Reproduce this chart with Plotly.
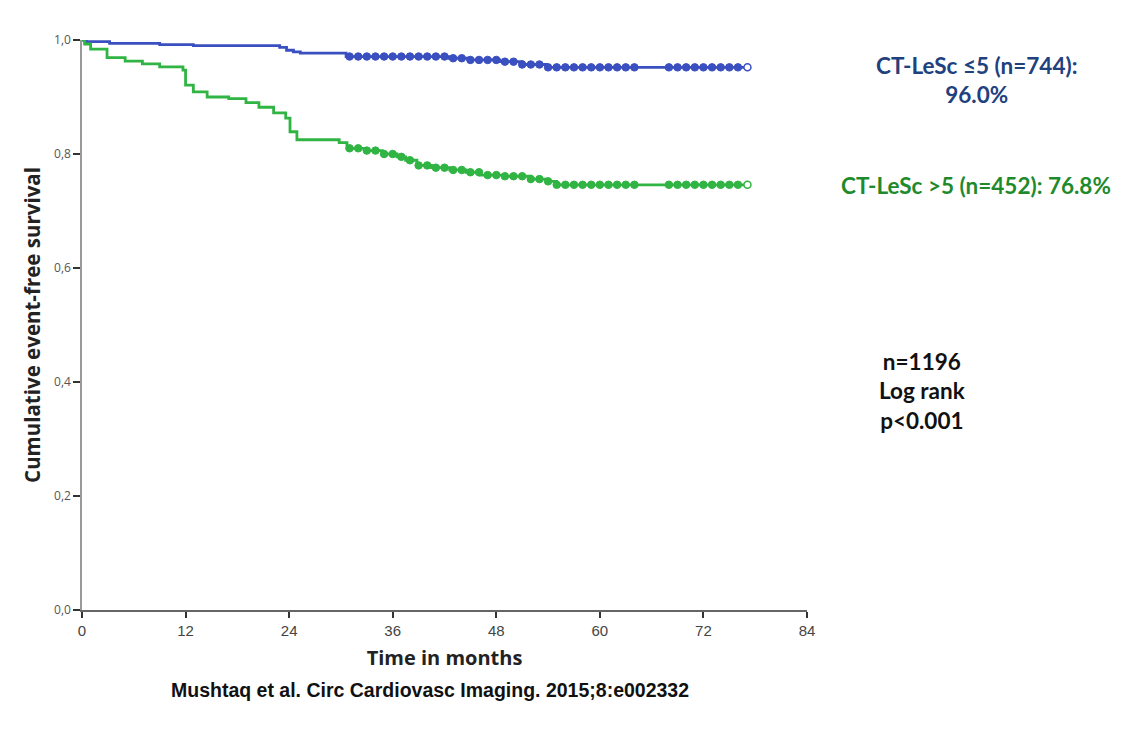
import plotly.graph_objects as go

# ---- data ----
blue_t = [0, 0.5, 3.2, 9.0, 12.9, 22.9, 23.7, 24.5, 25.3, 30.6, 42.5, 45.0, 48.4, 51.0, 53.8, 77.1]
blue_s = [1.000, 0.997, 0.994, 0.992, 0.990, 0.987, 0.982, 0.979, 0.977, 0.971, 0.968, 0.965, 0.962, 0.957, 0.952, 0.952]

green_t = [0, 0.3, 1.0, 2.9, 5.0, 7.0, 9.0, 11.7, 12.0, 12.9, 14.5, 17.0, 19.0, 20.5, 22.2, 23.6, 24.1, 24.9,
           29.8, 30.7, 33.0, 34.8, 36.5, 37.5, 38.8, 40.5, 42.6, 44.5, 46.1, 49.0, 52.0, 54.0, 55.0, 77.1]
green_s = [1.000, 0.993, 0.984, 0.969, 0.963, 0.958, 0.953, 0.947, 0.921, 0.909, 0.900, 0.897, 0.890, 0.882,
           0.872, 0.863, 0.839, 0.825, 0.820, 0.810, 0.806, 0.800, 0.795, 0.789, 0.780, 0.776, 0.772, 0.768,
           0.763, 0.761, 0.756, 0.752, 0.746, 0.746]

blue_cens = [31, 32, 33, 34, 35, 36, 37, 38, 39, 40, 41, 42, 43, 44, 45, 46, 47, 48, 49, 50, 51, 52, 53, 54,
             55, 56, 57, 58, 59, 60, 61, 62, 63, 64, 68, 69, 70, 71, 72, 73, 74, 75, 76]
green_cens = [31, 32, 33, 34, 35, 36, 37, 38, 39, 40, 41, 42, 43, 44, 45, 46, 47, 48, 49, 50, 51, 52, 53, 54,
              55, 56, 57, 58, 59, 60, 61, 62, 63, 64, 68, 69, 70, 71, 72, 73, 74, 75, 76]

x_ticks = [0, 12, 24, 36, 48, 60, 72, 84]
y_ticks = [0.0, 0.2, 0.4, 0.6, 0.8, 1.0]
y_ticktext = ["0,0", "0,2", "0,4", "0,6", "0,8", "1,0"]

BLUE = "#3a4fc0"
GREEN = "#30b443"


def step_lookup(ts, ss, q):
    out = []
    for v in q:
        idx = 0
        for i, t in enumerate(ts):
            if t <= v:
                idx = i
        out.append(ss[idx])
    return out


fig = go.Figure()
for ts, ss, cens, col in [(blue_t, blue_s, blue_cens, BLUE), (green_t, green_s, green_cens, GREEN)]:
    fig.add_trace(go.Scatter(x=ts, y=ss, mode="lines", line=dict(color=col, width=2.8, shape="hv"),
                             showlegend=False, hoverinfo="skip", cliponaxis=False))
    fig.add_trace(go.Scatter(x=cens, y=step_lookup(ts, ss, cens), mode="markers",
                             marker=dict(color=col, size=7.5, line=dict(color=col, width=1)),
                             showlegend=False, cliponaxis=False))
    fig.add_trace(go.Scatter(x=[ts[-1]], y=[ss[-1]], mode="markers",
                             marker=dict(color="white", size=7, line=dict(color=col, width=1.5)),
                             showlegend=False, cliponaxis=False))

# plot area on screen: x 82..807, y 40..610 (page has 8px body offset)
L, R, T, B = 82, 807, 40, 610


def px(sx):
    return (sx - L) / (R - L)


def py(sy):
    return (B - sy) / (B - T)


fig.update_layout(
    width=1122, height=733,
    margin=dict(l=L - 8, r=1122 - (R - 8), t=T - 8, b=733 - (B - 8)),
    paper_bgcolor="white", plot_bgcolor="white",
    xaxis=dict(range=[0, 84], tickvals=x_ticks, ticktext=[str(v) for v in x_ticks],
               showgrid=False, zeroline=False, showline=True, linecolor="#666", linewidth=1.5,
               ticks="outside", ticklen=6, tickwidth=1.5, tickcolor="#333",
               tickfont=dict(family="Liberation Sans, Arial, sans-serif", size=15, color="#444"),
               title=dict(text="<b>Time in months</b>", standoff=13,
                          font=dict(family="Open Sans, sans-serif", size=20, color="#222"))),
    yaxis=dict(range=[0, 1], tickvals=y_ticks, ticktext=y_ticktext,
               showgrid=False, zeroline=False, showline=True, linecolor="#999", linewidth=1.5,
               ticks="outside", ticklen=7, tickwidth=1.5, tickcolor="#333",
               tickfont=dict(family="Open Sans, sans-serif", size=12, color="#555"),
               title=dict(text="<b>Cumulative event-free survival</b>", standoff=8,
                          font=dict(family="Open Sans, sans-serif", size=20.5, color="#222"))),
)

fig.add_annotation(xref="paper", yref="paper", x=px(976), y=py(80), xanchor="center", yanchor="middle",
                   text="<b>CT-LeSc ≤5 (n=744):<br>96.0%</b>", showarrow=False,
                   font=dict(family="Lato, sans-serif", size=22.5, color="#21407e"), align="center")
fig.add_annotation(xref="paper", yref="paper", x=px(976), y=py(185), xanchor="center", yanchor="middle",
                   text="<b>CT-LeSc >5 (n=452): 76.8%</b>", showarrow=False,
                   font=dict(family="Lato, sans-serif", size=22.5, color="#1e8a2c"), align="center")
fig.add_annotation(xref="paper", yref="paper", x=px(923), y=py(391), xanchor="center", yanchor="middle",
                   text="<b>n=1196<br>Log rank<br>p<0.001</b>", showarrow=False,
                   font=dict(family="Lato, sans-serif", size=22.5, color="#111"), align="center")
fig.add_annotation(xref="paper", yref="paper", x=px(430), y=py(690), xanchor="center", yanchor="middle",
                   text="<b>Mushtaq et al. Circ Cardiovasc Imaging. 2015;8:e002332</b>", showarrow=False,
                   font=dict(family="Liberation Sans, Arial, sans-serif", size=19.5, color="#111"))

fig.write_html("out.html")
